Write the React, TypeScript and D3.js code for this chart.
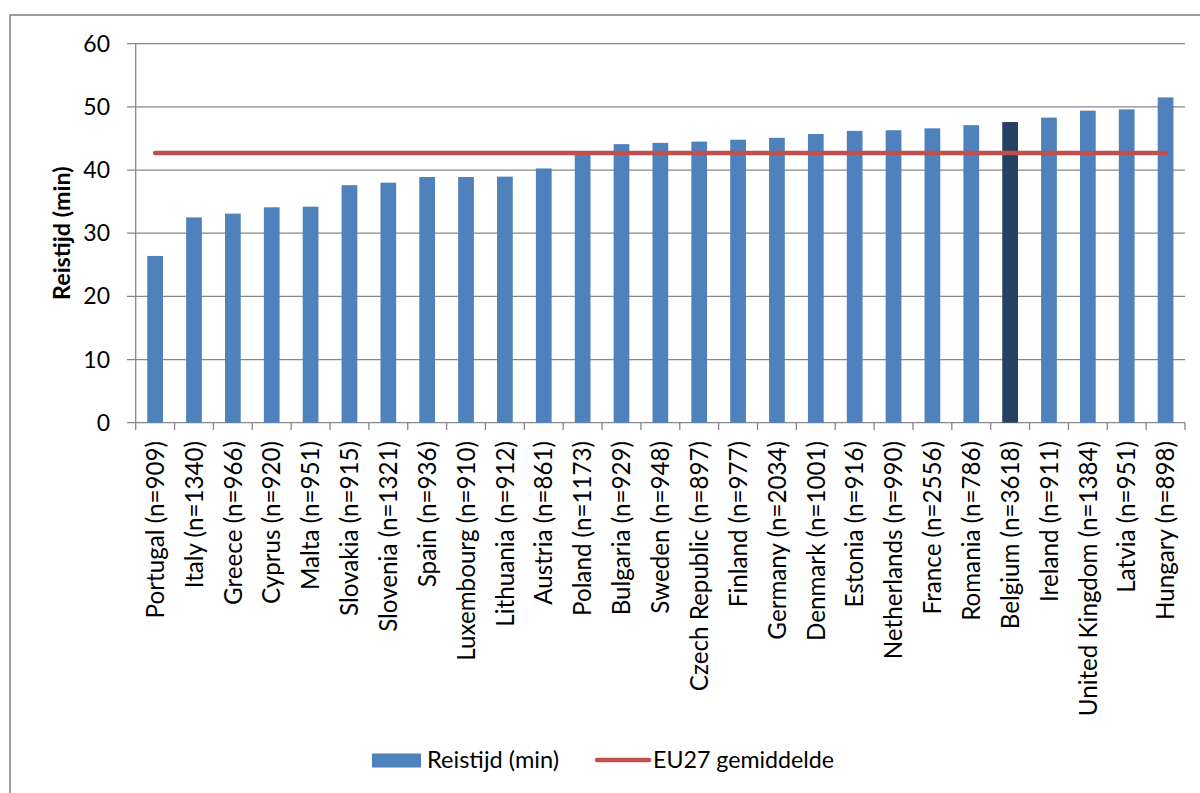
import React from "react";
import * as d3 from "d3";

const countries = [
  "Portugal (n=909)", "Italy (n=1340)", "Greece (n=966)", "Cyprus (n=920)", "Malta (n=951)",
  "Slovakia (n=915)", "Slovenia (n=1321)", "Spain (n=936)", "Luxembourg (n=910)", "Lithuania (n=912)",
  "Austria (n=861)", "Poland (n=1173)", "Bulgaria (n=929)", "Sweden (n=948)", "Czech Republic (n=897)",
  "Finland (n=977)", "Germany (n=2034)", "Denmark (n=1001)", "Estonia (n=916)", "Netherlands (n=990)",
  "France (n=2556)", "Romania (n=786)", "Belgium (n=3618)", "Ireland (n=911)", "United Kingdom (n=1384)",
  "Latvia (n=951)", "Hungary (n=898)",
];
const travelTime = [
  26.4, 32.5, 33.1, 34.1, 34.2, 37.6, 38.0, 38.9, 38.9, 38.95,
  40.25, 42.6, 44.1, 44.3, 44.5, 44.8, 45.1, 45.7, 46.2, 46.3,
  46.6, 47.1, 47.6, 48.3, 49.4, 49.6, 51.5,
];
const eu27Average = 42.7;
const highlighted = "Belgium (n=3618)";
const yTicks = [0, 10, 20, 30, 40, 50, 60];
const seriesName = "Reistijd (min)";
const averageName = "EU27 gemiddelde";
const yTitle = "Reistijd (min)";

const W = 1200;
const H = 793;
const left = 135.7;
const right = 1185;
const top = 43.7;
const bottom = 422.7;
const FONT = "Lato, 'Open Sans', sans-serif";
const GRID = "#878787";

export default function App() {
  const x = d3.scaleBand<string>().domain(countries).range([left, right]).padding(0);
  const y = d3.scaleLinear().domain([0, 60]).range([bottom, top]);
  const step = x.step();
  const barW = step * 0.405;
  const cx = (c: string) => (x(c) as number) + step / 2;
  const boundaries = d3.range(countries.length + 1).map((i) => left + i * step);

  return (
    <svg
      width={W}
      height={H}
      style={{ position: "absolute", left: 0, top: 0, background: "#fff" }}
      fontFamily={FONT}
    >
      <rect x={0} y={0} width={W} height={H} fill="#fff" />
      {/* chart area border */}
      <rect x={10} y={15} width={W + 20} height={H + 20} fill="none" stroke={GRID} strokeWidth={1.6} />

      {/* horizontal gridlines with outside tick marks */}
      {yTicks.map((t) => (
        <g key={t}>
          <line x1={127} x2={right} y1={y(t)} y2={y(t)} stroke={GRID} strokeWidth={1.3} />
          <text x={110} y={y(t)} dy="0.35em" textAnchor="end" fontSize={23} fill="#000">
            {t}
          </text>
        </g>
      ))}
      {/* value axis */}
      <line x1={left} x2={left} y1={top} y2={bottom} stroke={GRID} strokeWidth={1.3} />
      {/* category tick marks */}
      {boundaries.map((bx, i) => (
        <line key={i} x1={bx} x2={bx} y1={bottom} y2={430} stroke={GRID} strokeWidth={1.3} />
      ))}

      {/* bars */}
      {countries.map((c, i) => (
        <rect
          key={c}
          x={cx(c) - barW / 2}
          y={y(travelTime[i])}
          width={barW}
          height={bottom - y(travelTime[i])}
          fill={c === highlighted ? "#254061" : "#4F81BD"}
        />
      ))}

      {/* EU27 average line */}
      <line
        x1={cx(countries[0])}
        x2={cx(countries[countries.length - 1])}
        y1={y(eu27Average)}
        y2={y(eu27Average)}
        stroke="#C0504D"
        strokeWidth={4.5}
        strokeLinecap="round"
      />

      {/* category labels */}
      {countries.map((c) => (
        <text
          key={c}
          transform={`translate(${cx(c)},441) rotate(-90)`}
          dy="0.36em"
          textAnchor="end"
          fontSize={24.2}
          fill="#000"
        >
          {c}
        </text>
      ))}

      {/* y-axis title */}
      <text
        transform={`translate(62,${(top + bottom) / 2}) rotate(-90)`}
        dy="0.36em"
        textAnchor="middle"
        fontSize={23.3}
        fontWeight="bold"
        fill="#000"
      >
        {yTitle}
      </text>

      {/* legend */}
      <rect x={372} y={753.5} width={49} height={14} fill="#4F81BD" />
      <text x={427} y={760} dy="0.36em" fontSize={23.6} fill="#000">
        {seriesName}
      </text>
      <line x1={597} x2={649} y1={760} y2={760} stroke="#C0504D" strokeWidth={4.5} strokeLinecap="round" />
      <text x={653} y={760} dy="0.36em" fontSize={23.2} fill="#000">
        {averageName}
      </text>
    </svg>
  );
}
